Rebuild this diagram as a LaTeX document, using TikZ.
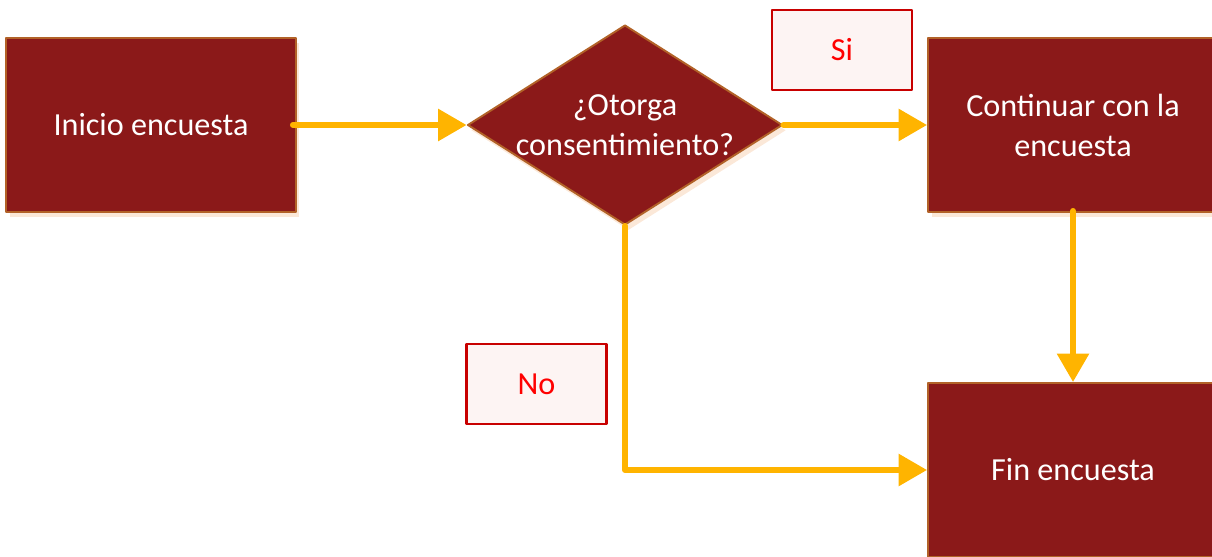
\documentclass[tikz,border=0pt]{standalone}
\usepackage{fontspec}
\setmainfont{Carlito}
\usepackage{xcolor}
\usetikzlibrary{arrows.meta,shapes.geometric,shadows}
\definecolor{boxfill}{RGB}{139,25,25}
\definecolor{boxline}{RGB}{178,98,40}
\definecolor{flecha}{RGB}{255,180,0}
\definecolor{tagline}{RGB}{200,0,0}
\definecolor{tagtext}{RGB}{255,0,0}
\definecolor{sombra}{RGB}{250,222,200}
\definecolor{tagfill}{RGB}{253,244,243}

\begin{document}
\begin{tikzpicture}[line cap=round,line join=round,x=0.02cm,y=-0.02cm,
    paso/.style={draw=boxline,line width=1.1pt,fill=boxfill,text=white,
        minimum width=5.8cm,minimum height=3.48cm,align=center,
        font=\fontsize{18.3}{22.8}\selectfont,
        drop shadow={shadow xshift=2pt,shadow yshift=-3pt,fill=sombra,opacity=0.7}},
    decision/.style={diamond,draw=boxline,line width=1.1pt,fill=boxfill,
        minimum width=6.3cm,minimum height=4cm,inner sep=0pt,
        drop shadow={shadow xshift=2pt,shadow yshift=-3pt,fill=sombra,opacity=0.7}},
    etiqueta/.style={draw=tagline,line width=1.2pt,fill=tagfill,
        text=tagtext,minimum width=2.8cm,minimum height=1.6cm,
        font=\fontsize{18.3}{22.8}\selectfont},
    flujo/.style={draw=flecha,line width=3.4pt,-{Triangle[length=0.57cm,width=0.62cm]}}]
    \useasboundingbox (0,0) rectangle (1212,557);
    % cajas
    \node[paso] (inicio) at (151,125) {Inicio encuesta};
    \node[decision] (consent) at (625,125) {};
    \node[text=white,align=center,font=\fontsize{18.3}{22.8}\selectfont] (pregunta) at (625,125) {¿Otorga\\consentimiento?};
    \node[paso] (continuar) at (1073,125) {Continuar con la\\encuesta};
    \node[paso] (fin) at (1073,470) {Fin encuesta};
    % etiquetas
    \node[etiqueta] (si) at (842,50) {Si};
    \node[etiqueta] (no) at (536.5,384) {No};
    % flechas
    \coordinate (inicioout) at ([xshift=-0.08cm]inicio.east);
    \coordinate (contout) at ([yshift=0.04cm]continuar.south);
    \draw[flujo] (inicioout) -- (consent.west);
    \draw[flujo] (consent.east) -- (continuar.west);
    \draw[flujo] (contout) -- (fin.north);
    \draw[flujo] (consent.south) |- (fin.west);
\end{tikzpicture}
\end{document}
